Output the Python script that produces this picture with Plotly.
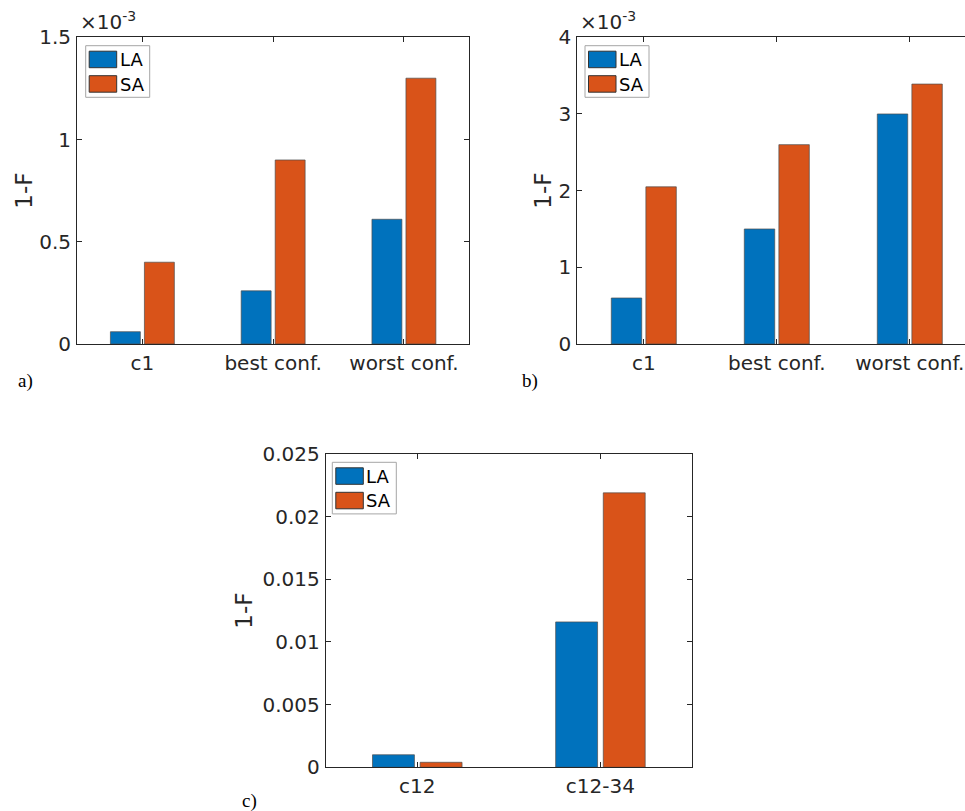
import plotly.graph_objects as go

# ---------------- data ----------------
cats_ab = ["c1", "best conf.", "worst conf."]
la_a = [0.06e-3, 0.26e-3, 0.61e-3]
sa_a = [0.40e-3, 0.90e-3, 1.30e-3]

la_b = [0.60e-3, 1.50e-3, 3.00e-3]
sa_b = [2.05e-3, 2.60e-3, 3.39e-3]

cats_c = ["c12", "c12-34"]
la_c = [0.0010, 0.0116]
sa_c = [0.0004, 0.0219]

ytick_a = [0, 0.5e-3, 1.0e-3, 1.5e-3]
ytext_a = ["0", "0.5", "1", "1.5"]
ytick_b = [0, 1e-3, 2e-3, 3e-3, 4e-3]
ytext_b = ["0", "1", "2", "3", "4"]
ytick_c = [0, 0.005, 0.01, 0.015, 0.02, 0.025]
ytext_c = ["0", "0.005", "0.01", "0.015", "0.02", "0.025"]

series_names = ["LA", "SA"]
colors = ["#0072BD", "#D95319"]

W, H = 965, 811
FONT = "DejaVu Sans, Liberation Sans, Arial, sans-serif"
TXT = "#262626"

fig = go.Figure()

# panel pixel boxes: left, top, right, bottom
panels = {
    "a": dict(box=(77, 37.3, 469.3, 344)),
    "b": dict(box=(577.3, 37.3, 965, 344)),
    "c": dict(box=(325.7, 454, 692, 767.3)),
}

def add_bars(cats, la, sa, xa, ya):
    for name, vals, col in zip(series_names, [la, sa], colors):
        fig.add_trace(go.Bar(x=cats, y=vals, name=name,
                             marker=dict(color=col, line=dict(color="#4d4d4d", width=0.7)),
                             xaxis=xa, yaxis=ya, showlegend=False))

add_bars(cats_ab, la_a, sa_a, "x", "y")
add_bars(cats_ab, la_b, sa_b, "x2", "y2")
add_bars(cats_c, la_c, sa_c, "x3", "y3")

def dom(box):
    l, t, r, b = box
    return [l / W, min(r / W, 1.0)], [1 - b / H, 1 - t / H]

def axis_common():
    return dict(showline=True, linecolor=TXT, linewidth=1, mirror="ticks", ticks="inside",
                ticklen=5, tickcolor=TXT, tickwidth=1, showgrid=False, zeroline=False,
                automargin=False, tickfont=dict(family=FONT, size=20, color=TXT))

layout = dict(width=W, height=H, margin=dict(l=0, r=0, t=0, b=0), paper_bgcolor="white",
              plot_bgcolor="white", barmode="group", bargap=0.48, bargroupgap=0.12, showlegend=False)

xr = {"a": [-0.5, 2.5], "b": [-0.5, 2.415], "c": [-0.5, 1.5]}
yr = {"a": [0, 1.5e-3], "b": [0, 4e-3], "c": [0, 0.025]}
yt = {"a": (ytick_a, ytext_a), "b": (ytick_b, ytext_b), "c": (ytick_c, ytext_c)}
stand = {"a": 0, "b": 0, "c": 3}
for i, key in enumerate(["a", "b", "c"]):
    p = panels[key]
    xd, yd = dom(p["box"])
    sfx = "" if i == 0 else str(i + 1)
    xax = axis_common()
    xax.update(domain=xd, range=xr[key], anchor="y" + sfx, type="category", ticklabelstandoff=1)
    yax = axis_common()
    yax.update(domain=yd, range=yr[key], anchor="x" + sfx, tickvals=yt[key][0], ticktext=yt[key][1],
               ticklabelstandoff=1,
               title=dict(text="1-F", font=dict(family=FONT, size=23, color=TXT), standoff=stand[key]))
    if key == "b":
        # right border of panel b lies beyond the page edge
        yax.update(mirror=False)
    layout["xaxis" + sfx] = xax
    layout["yaxis" + sfx] = yax

fig.update_layout(**layout)

def px(x, y):
    return x / W, 1 - y / H

# custom legends
for key, (lx, ly) in {"a": (85.7, 45.7), "b": (585, 45.7), "c": (332.3, 462.3)}.items():
    bw, bh = 64, 51.6
    x0, y0 = px(lx, ly)
    x1, y1 = px(lx + bw, ly + bh)
    fig.add_shape(type="rect", xref="paper", yref="paper", x0=x0, y0=y0, x1=x1, y1=y1,
                  line=dict(color="#a6a6a6", width=1), fillcolor="white", layer="above")
    for j, (name, col) in enumerate(zip(series_names, colors)):
        sy = ly + 5.5 + j * 24.5
        a0 = px(lx + 3.5, sy)
        a1 = px(lx + 31, sy + 16.5)
        fig.add_shape(type="rect", xref="paper", yref="paper", x0=a0[0], y0=a0[1], x1=a1[0], y1=a1[1],
                      line=dict(color="#333333", width=1), fillcolor=col, layer="above")
        tx, ty = px(lx + 32, sy + 8.5)
        fig.add_annotation(text=name, x=tx, y=ty, xref="paper", yref="paper", xanchor="left", yanchor="middle",
                           showarrow=False, font=dict(family=FONT, size=18, color="#000000"))

# exponent labels
for lx in [78, 578]:
    x, y = px(lx, 36)
    fig.add_annotation(text="\u00d710<sup>-3</sup>", x=x, y=y, xref="paper", yref="paper",
                       xanchor="left", yanchor="bottom", showarrow=False,
                       font=dict(family=FONT, size=20, color=TXT))

# panel labels
for lab, (lx, ly) in {"a)": (16, 381), "b)": (520, 381), "c)": (240, 801)}.items():
    x, y = px(lx, ly)
    fig.add_annotation(text=lab, x=x, y=y, xref="paper", yref="paper", xanchor="left", yanchor="middle",
                       showarrow=False, font=dict(family="Liberation Serif, DejaVu Serif, serif", size=19, color="#000000"))

fig.write_html("out.html")
